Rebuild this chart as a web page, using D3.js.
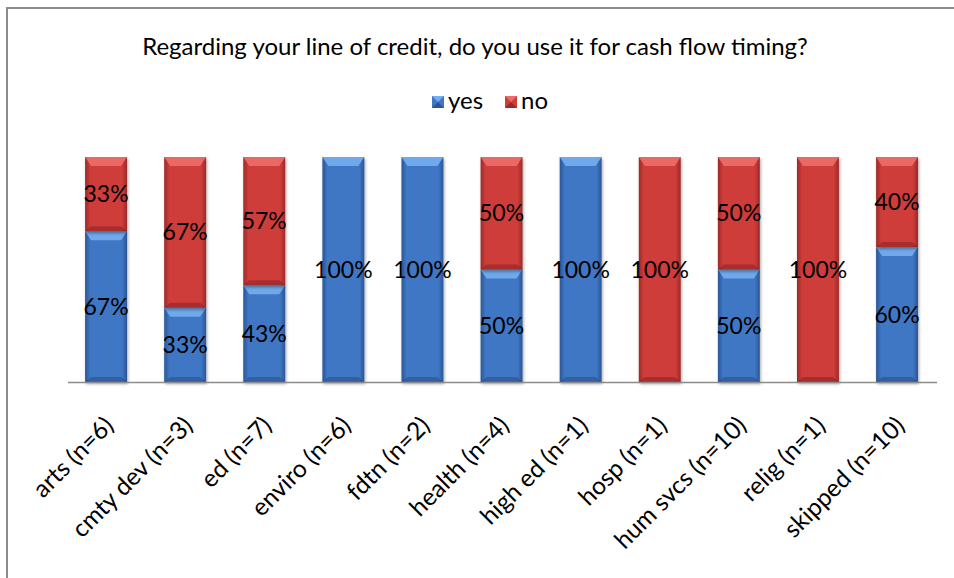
<!DOCTYPE html>
<html><head><meta charset="utf-8">
<script src="https://cdn.jsdelivr.net/npm/d3@7"></script>
<style>body{margin:0;background:#fff}svg{display:block}</style>
</head><body>
<svg id="c" width="954" height="578"></svg>
<script>
const categories = ["arts (n=6)","cmty dev (n=3)","ed (n=7)","enviro (n=6)","fdtn (n=2)","health (n=4)","high ed (n=1)","hosp (n=1)","hum svcs (n=10)","relig (n=1)","skipped (n=10)"];
const yesValues = [0.67,0.33,0.43,1,1,0.5,1,0,0.5,0,0.6];
const noValues  = [0.33,0.67,0.57,0,0,0.5,0,1,0.5,1,0.4];
const seriesNames = ["yes","no"];
const titleText = "Regarding your line of credit, do you use it for cash flow timing?";

const FONT = "Lato, 'Open Sans', sans-serif";
const svg = d3.select("#c");
const defs = svg.append("defs");
const colors = {
  yes:{main:"#3f77c4", dark:"#2a5596", light:"#74aef0", edge:"#24497f"},
  no:{main:"#cf3c3a", dark:"#9a2a28", light:"#ec6e6c", edge:"#7e2120"}
};
for (const k of seriesNames){
  const c = colors[k];
  const g = defs.append("linearGradient").attr("id","g-"+k).attr("x1","0").attr("x2","1").attr("y1","0").attr("y2","0");
  g.append("stop").attr("offset","0").attr("stop-color",c.dark);
  g.append("stop").attr("offset","0.12").attr("stop-color",c.main);
  g.append("stop").attr("offset","0.5").attr("stop-color",c.main);
  g.append("stop").attr("offset","0.88").attr("stop-color",c.main);
  g.append("stop").attr("offset","1").attr("stop-color",c.dark);
}
const f = defs.append("filter").attr("id","sh").attr("x","-20%").attr("y","-5%").attr("width","140%").attr("height","115%");
f.append("feGaussianBlur").attr("in","SourceAlpha").attr("stdDeviation","1.5");
f.append("feOffset").attr("dx","1").attr("dy","2").attr("result","b");
f.append("feComponentTransfer").append("feFuncA").attr("type","linear").attr("slope","0.35");
const m = f.append("feMerge"); m.append("feMergeNode"); m.append("feMergeNode").attr("in","SourceGraphic");

// border
svg.append("rect").attr("x",7).attr("y",8).attr("width",1000).attr("height",1000)
  .attr("fill","none").attr("stroke","#8c8c8c").attr("stroke-width",2);

const x = d3.scaleBand().domain(categories).range([66.5,936.6]).paddingInner(0.47).paddingOuter(0.235);
const y = d3.scaleLinear().domain([0,1]).range([382,157]);

// title
svg.append("text").attr("x",475).attr("y",55).attr("text-anchor","middle")
  .attr("font-family",FONT).attr("font-size",24).attr("fill","#000").text(titleText);

// legend
const legend = svg.append("g");
const legX = [432,505];
seriesNames.forEach((s,i)=>{
  const c = colors[s];
  const lg = legend.append("g").attr("transform",`translate(${legX[i]},96)`);
  lg.append("rect").attr("width",12).attr("height",12).attr("fill",c.main);
  lg.append("path").attr("d","M0,0 L12,0 L6,6 Z").attr("fill",c.light);
  lg.append("path").attr("d","M0,12 L12,12 L6,6 Z").attr("fill",c.dark);
  lg.append("text").attr("x",16).attr("y",13).attr("font-family",FONT).attr("font-size",24).text(s);
});

// stacked data
const rows = categories.map((c,i)=>({cat:c, yes:yesValues[i], no:noValues[i]}));
const stack = d3.stack().keys(seriesNames)(rows);

const bw = x.bandwidth();
const bars = svg.append("g");
stack.forEach(layer=>{
  const key = layer.key, c = colors[key];
  layer.forEach((d,i)=>{
    const v = d[1]-d[0];
    if (v<=0) return;
    const x0 = x(categories[i]), y0 = y(d[1]), y1 = y(d[0]);
    const h = y1-y0;
    const g = bars.append("g").attr("filter","url(#sh)");
    g.append("rect").attr("x",x0).attr("y",y0).attr("width",bw).attr("height",h).attr("fill",`url(#g-${key})`);
    const bv = Math.min(9,h/3), sv = 6;
    g.append("path").attr("d",`M${x0},${y0} L${x0+bw},${y0} L${x0+bw-sv},${y0+bv} L${x0+sv},${y0+bv} Z`).attr("fill",c.light).attr("opacity",0.9);
    const bb = Math.min(5,h/4);
    g.append("path").attr("d",`M${x0},${y1} L${x0+bw},${y1} L${x0+bw-sv},${y1-bb} L${x0+sv},${y1-bb} Z`).attr("fill",c.edge).attr("opacity",0.5);
  });
});

// axis
const axis = svg.append("g").attr("transform","translate(0,382)")
  .call(d3.axisBottom(x).tickSize(0).tickPadding(0));
axis.select(".domain").attr("stroke","#8c8c8c").attr("stroke-width",1.5).attr("d","M68,0.5H937");
axis.selectAll(".tick text")
  .attr("font-family",FONT).attr("font-size",24.5).attr("fill","#000")
  .attr("text-anchor","end").attr("dy",0)
  .attr("transform","translate(9,45) rotate(-45)");

// data labels
stack.forEach(layer=>{
  layer.forEach((d,i)=>{
    const v = d[1]-d[0];
    if (v<=0) return;
    svg.append("text").attr("x",x(categories[i])+bw/2).attr("y",y((d[0]+d[1])/2))
      .attr("dy","0.35em").attr("text-anchor","middle")
      .attr("font-family",FONT).attr("font-size",23).attr("fill","#000")
      .text(Math.round(v*100)+"%");
  });
});
</script>
</body></html>
